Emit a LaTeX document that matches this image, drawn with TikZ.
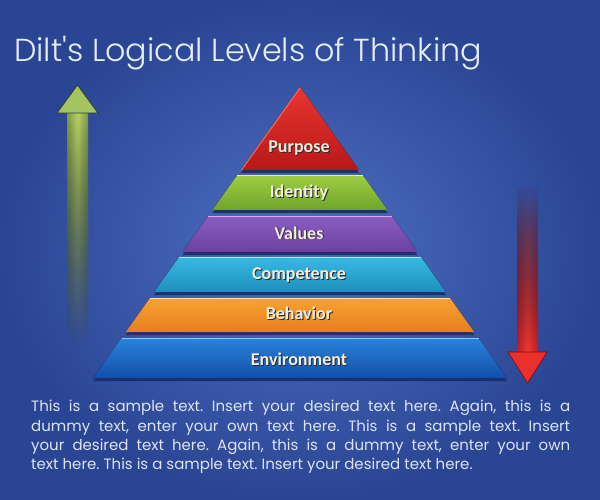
\documentclass[tikz,border=0pt]{standalone}
\usepackage{fontspec}
\setmainfont{Poppins}
\newfontfamily\titlefont{Poppins}[UprightFont=* Light]
\newfontfamily\labelfont{Carlito}
\usetikzlibrary{fadings}

\definecolor{bgcenter}{HTML}{5070C2}
\definecolor{bgedge}{HTML}{2A4594}
\definecolor{titletext}{HTML}{E6EEFA}
\definecolor{bodytext}{HTML}{DCE4F4}
\definecolor{labeltext}{HTML}{F6EFDC}
\definecolor{labelshade}{HTML}{2A2A3A}
\definecolor{tiershadow}{HTML}{1E2F6E}
\definecolor{upedge}{HTML}{7C9A48}
\definecolor{upmid}{HTML}{BCD468}
\definecolor{uphead}{HTML}{A4C462}
\definecolor{upline}{HTML}{2E4030}
\definecolor{downedge}{HTML}{C02028}
\definecolor{downmid}{HTML}{F03A34}
\definecolor{downhead}{HTML}{E8302C}
\definecolor{purposetop}{HTML}{E8362E}
\definecolor{purposebot}{HTML}{B81818}
\definecolor{purposehi}{HTML}{F27060}
\definecolor{identitytop}{HTML}{9FCE42}
\definecolor{identitybot}{HTML}{6FA42A}
\definecolor{identityhi}{HTML}{DCF2A8}
\definecolor{valuestop}{HTML}{8C5EC2}
\definecolor{valuesbot}{HTML}{6A40A0}
\definecolor{valueshi}{HTML}{CDB0F2}
\definecolor{competencetop}{HTML}{38BAE2}
\definecolor{competencebot}{HTML}{1E8EBE}
\definecolor{competencehi}{HTML}{A8ECFC}
\definecolor{behaviortop}{HTML}{F8A232}
\definecolor{behaviorbot}{HTML}{E67E1E}
\definecolor{behaviorhi}{HTML}{FFE2A4}
\definecolor{environmenttop}{HTML}{2A84DA}
\definecolor{environmentbot}{HTML}{124EA8}
\definecolor{environmenthi}{HTML}{86CCF8}

\tikzfading[name=fadedown, top color=transparent!0, bottom color=transparent!100]
\tikzfading[name=fadeup, top color=transparent!100, bottom color=transparent!0]

\newcommand\shadowed[1]{\makebox[0pt][l]{\raisebox{-1pt}{\hspace{1pt}\color{labelshade}#1}}#1}

\begin{document}
\begin{tikzpicture}[
    x=1pt, y=-1pt,
    tierlabel/.style={anchor=base, inner sep=0pt, text=labeltext,
        font=\labelfont\bfseries\fontsize{18}{18}\selectfont},
    tiershade/.style={fill=tiershadow, yshift=-3pt}
    ]
\fill[inner color=bgcenter, outer color=bgedge] (0,0) rectangle (600,500);
\useasboundingbox (0,0) rectangle (600,500);

% title
\node[anchor=base west, inner sep=0pt, text=titletext, font=\titlefont\fontsize{31.8}{32}\selectfont] (title) at (14,62) {Dilt's Logical Levels of Thinking};

% left arrow (up)
\fill[left color=upedge, right color=upedge, middle color=upmid, path fading=fadedown] (67,112) rectangle (88,345);
\filldraw[fill=uphead, draw=upline, line width=0.8pt] (57,113) -- (77.5,85) -- (98,113) -- cycle;

% right arrow (down)
\fill[left color=downedge, right color=downedge, middle color=downmid, path fading=fadeup] (517,185) rectangle (538,353);
\filldraw[fill=downhead, draw=red!60!black, line width=0.6pt] (508,352) -- (547,352) -- (527.5,383) -- cycle;

% pyramid
\fill[tiershade] (300,87) -- (359,170) -- (241,170) -- cycle;
\fill[top color=purposetop, bottom color=purposebot] (300,87) -- (359,170) -- (241,170) -- cycle;
\draw[purposehi, line width=1pt] (300,88) -- (241.5,170);

\fill[tiershade] (237.4,175) -- (362.6,175) -- (387.5,210) -- (212.5,210) -- cycle;
\fill[top color=identitytop, bottom color=identitybot] (237.4,175) -- (362.6,175) -- (387.5,210) -- (212.5,210) -- cycle;
\draw[identityhi, line width=1.3pt] (237.4,175.7) -- (362.6,175.7);

\fill[tiershade] (208.3,216) -- (391.7,216) -- (417.3,252) -- (182.7,252) -- cycle;
\fill[top color=valuestop, bottom color=valuesbot] (208.3,216) -- (391.7,216) -- (417.3,252) -- (182.7,252) -- cycle;
\draw[valueshi, line width=1.3pt] (208.3,216.7) -- (391.7,216.7);

\fill[tiershade] (179.1,257) -- (420.9,257) -- (445.8,292) -- (154.2,292) -- cycle;
\fill[top color=competencetop, bottom color=competencebot] (179.1,257) -- (420.9,257) -- (445.8,292) -- (154.2,292) -- cycle;
\draw[competencehi, line width=1.3pt] (179.1,257.7) -- (420.9,257.7);

\fill[tiershade] (150,298) -- (450,298) -- (474.2,332) -- (125.8,332) -- cycle;
\fill[top color=behaviortop, bottom color=behaviorbot] (150,298) -- (450,298) -- (474.2,332) -- (125.8,332) -- cycle;
\draw[behaviorhi, line width=1.3pt] (150,298.7) -- (450,298.7);

\fill[tiershade] (121.5,338) -- (478.5,338) -- (506.9,378) -- (93.1,378) -- cycle;
\fill[top color=environmenttop, bottom color=environmentbot] (121.5,338) -- (478.5,338) -- (506.9,378) -- (93.1,378) -- cycle;
\draw[environmenthi, line width=1.3pt] (121.5,338.7) -- (478.5,338.7);

% level names
\node[tierlabel] (purpose) at (299,153) {\shadowed{Purpose}};
\node[tierlabel] (identity) at (299,197) {\shadowed{Identity}};
\node[tierlabel] (values) at (299,239) {\shadowed{Values}};
\node[tierlabel] (competence) at (299,279) {\shadowed{Competence}};
\node[tierlabel] (behavior) at (299,319) {\shadowed{Behavior}};
\node[tierlabel] (environment) at (299,365) {\shadowed{Environment}};

% text block
\node[anchor=north west, inner sep=0pt, text width=539pt, align=justify, text=bodytext, font=\fontsize{15}{19.4}\selectfont\frenchspacing] (body) at (31,400) {This is a sample text. Insert your desired text here. Again, this is a\linebreak dummy text, enter your own text here. This is a sample text. Insert\linebreak your desired text here. Again, this is a dummy text, enter your own\linebreak text here. This is a sample text. Insert your desired text here.};

\end{tikzpicture}
\end{document}
